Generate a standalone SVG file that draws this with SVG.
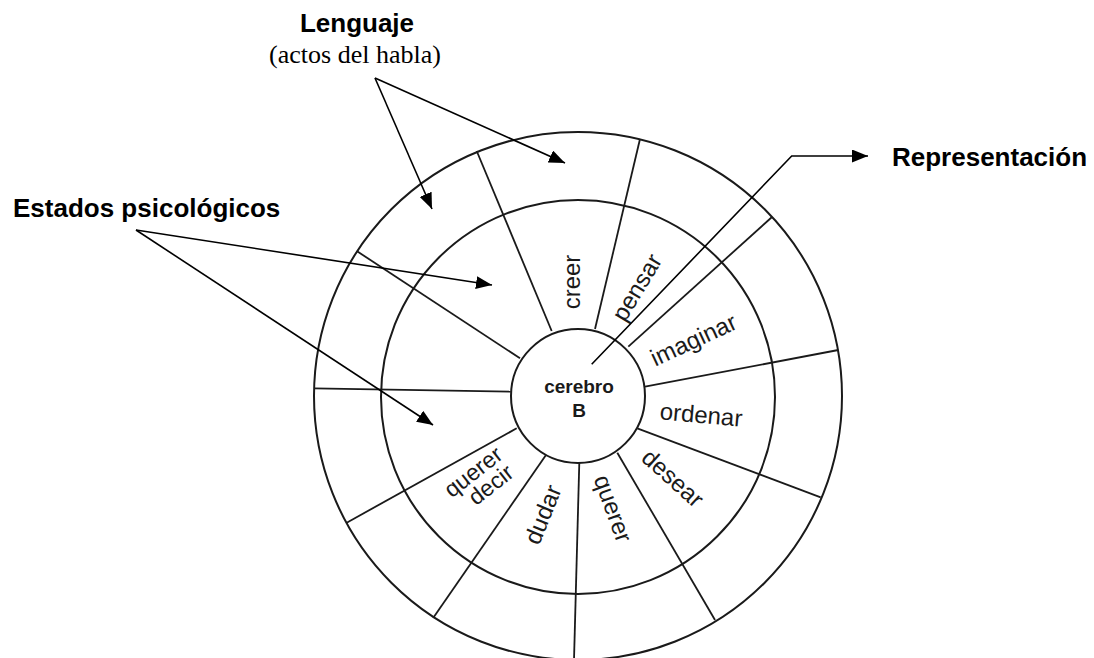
<svg xmlns="http://www.w3.org/2000/svg" width="1094" height="658" viewBox="0 0 1094 658">
  <style>
    .ring { fill: none; stroke: #1a1a1a; stroke-width: 2; }
    .spoke { stroke: #1a1a1a; stroke-width: 1.8; fill: none; }
    .conn { stroke: #000; stroke-width: 1.6; fill: none; }
    .head { font-family: "Liberation Sans", Arial, sans-serif; font-weight: bold; font-size: 26px; fill: #000; }
    .sub { font-family: "Liberation Serif", "Times New Roman", serif; font-size: 26px; fill: #000; }
    .lbl { font-family: "Liberation Sans", Arial, sans-serif; font-size: 24px; fill: #1a1a1a; text-anchor: middle; }
    .core { font-family: "Liberation Sans", Arial, sans-serif; font-weight: bold; font-size: 19px; fill: #1a1a1a; text-anchor: middle; }
  </style>
  <defs>
    <marker id="arr" markerUnits="userSpaceOnUse" markerWidth="17" markerHeight="13" refX="16" refY="6.5" orient="auto">
      <path d="M0,0 L16,6.5 L0,13 z" fill="#000"/>
    </marker>
  </defs>
  <rect width="1094" height="658" fill="#fff"/>

  <g id="outer-ring">
    <circle class="ring" cx="578" cy="396" r="264"/>
  </g>
  <g id="middle-ring">
    <circle class="ring" cx="578" cy="397" r="197"/>
  </g>

  <g id="spokes">
    <line class="spoke" x1="476.7" y1="151" x2="551.7" y2="331"/>
    <line class="spoke" x1="356.7" y1="251" x2="520" y2="358.3"/>
    <line class="spoke" x1="314" y1="388.3" x2="510.7" y2="391.7"/>
    <line class="spoke" x1="346.7" y1="522.7" x2="516.7" y2="428.3"/>
    <line class="spoke" x1="433.3" y1="617.7" x2="546" y2="455"/>
    <line class="spoke" x1="579.3" y1="462.7" x2="574" y2="660"/>
    <line class="spoke" x1="617.3" y1="452.7" x2="715" y2="620"/>
    <line class="spoke" x1="637.3" y1="428.3" x2="820.7" y2="497.3"/>
    <line class="spoke" x1="645" y1="386.7" x2="838.3" y2="350"/>
    <line class="spoke" x1="628.3" y1="346.7" x2="772" y2="217"/>
    <line class="spoke" x1="595" y1="329" x2="640" y2="139"/>
  </g>

  <g id="cerebro">
    <circle class="ring" cx="578" cy="396" r="67" fill="#fff"/>
    <text class="core" x="579" y="393">cerebro</text>
    <text class="core" x="579" y="417">B</text>
  </g>

  <g id="sector-labels">
    <text class="lbl" transform="translate(573,282) rotate(-90)" y="7">creer</text>
    <text class="lbl" transform="translate(638,288) rotate(-59)" y="7">pensar</text>
    <text class="lbl" transform="translate(694,341) rotate(-25)" y="7">imaginar</text>
    <text class="lbl" transform="translate(701,416) rotate(5)" y="7">ordenar</text>
    <text class="lbl" transform="translate(672,479) rotate(42)" y="7">desear</text>
    <text class="lbl" transform="translate(612,509) rotate(70)" y="7">querer</text>
    <text class="lbl" transform="translate(544,515) rotate(-68)" y="7">dudar</text>
    <text class="lbl" transform="translate(482,480) rotate(-38)" style="font-size:23px"><tspan x="-2" y="-4">querer</tspan><tspan x="4" y="17">decir</tspan></text>
  </g>

  <g id="lenguaje">
    <text class="head" x="357" y="32" text-anchor="middle">Lenguaje</text>
    <text class="sub" x="355" y="63" text-anchor="middle">(actos del habla)</text>
  </g>
  <g id="estados">
    <text class="head" x="13" y="217">Estados psicológicos</text>
  </g>
  <g id="representacion">
    <text class="head" x="892" y="166">Representación</text>
  </g>

  <g id="connectors">
    <line class="conn" x1="375" y1="78" x2="432" y2="209" marker-end="url(#arr)"/>
    <line class="conn" x1="375" y1="78" x2="565" y2="163" marker-end="url(#arr)"/>
    <line class="conn" x1="136" y1="230" x2="492" y2="285" marker-end="url(#arr)"/>
    <line class="conn" x1="136" y1="230" x2="433" y2="425" marker-end="url(#arr)"/>
    <polyline class="conn" points="591.7,364.3 791.7,156 868,156" marker-end="url(#arr)"/>
  </g>
</svg>
